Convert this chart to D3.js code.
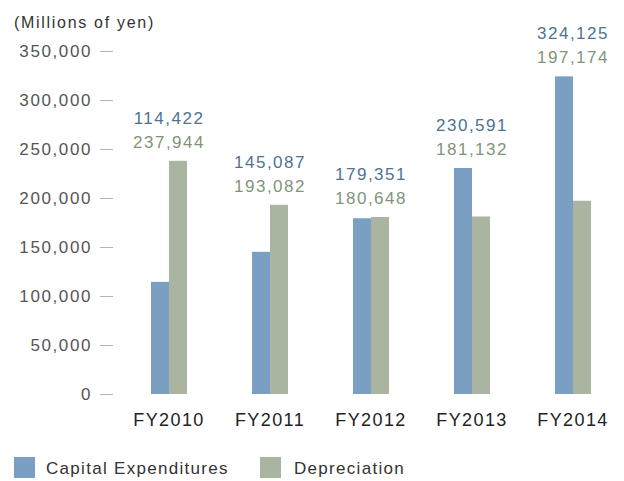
<!DOCTYPE html>
<html>
<head>
<meta charset="utf-8">
<script src="https://cdn.jsdelivr.net/npm/d3@7/dist/d3.min.js"></script>
<style>
  body { margin: 0; background: #fff; }
  svg text { font-family: "Liberation Sans", Arial, sans-serif; }
</style>
</head>
<body>
<div id="chart"></div>
<script>
// data
const years = ["FY2010", "FY2011", "FY2012", "FY2013", "FY2014"];
const capex = [114422, 145087, 179351, 230591, 324125];
const depreciation = [237944, 193082, 180648, 181132, 197174];
const yTicks = [0, 50000, 100000, 150000, 200000, 250000, 300000, 350000];
const seriesNames = ["Capital Expenditures", "Depreciation"];
const unitLabel = "(Millions of yen)";

const width = 624;
const height = 481;
const blue = "#7b9fc2";
const green = "#aab5a1";
const blueText = "#4d7392";
const greenText = "#7f9579";

const svg = d3.select("#chart").append("svg")
  .attr("width", width)
  .attr("height", height);

let x = d3.scaleBand()
  .domain(years)
  .range([118.5, 623.5])
  .padding(0);

let y = d3.scaleLinear()
  .domain([0, 350000])
  .range([394, 51]);

let barW = 18;

// y axis: only the little dashes and labels
let yAxis = svg.append("g")
  .attr("transform", "translate(113,0)")
  .call(d3.axisLeft(y).tickValues(yTicks).tickFormat(d3.format(",")).tickSize(13).tickPadding(8));
yAxis.select(".domain").remove();
yAxis.selectAll(".tick line").attr("stroke", "#b5b5b5");
yAxis.selectAll(".tick text")
  .attr("fill", "#555")
  .style("font-size", "17px")
  .style("letter-spacing", "1.6px");

// x axis labels
let xAxis = svg.append("g")
  .attr("transform", "translate(0,394)")
  .call(d3.axisBottom(x).tickSize(0).tickPadding(19));
xAxis.select(".domain").remove();
xAxis.selectAll(".tick text")
  .attr("fill", "#222")
  .style("font-size", "18px")
  .style("letter-spacing", "1.4px");

let rows = years.map((yr, i) => ({ year: yr, capex: capex[i], dep: depreciation[i] }));

let g = svg.selectAll("g.year")
  .data(rows)
  .enter()
  .append("g")
  .classed("year", true)
  .attr("transform", (d) => `translate(${x(d.year) + x.bandwidth() / 2},0)`);

g.append("rect")
  .attr("x", -barW)
  .attr("width", barW)
  .attr("y", (d) => y(d.capex))
  .attr("height", (d) => y(0) - y(d.capex))
  .attr("fill", blue);

g.append("rect")
  .attr("x", 0)
  .attr("width", barW)
  .attr("y", (d) => y(d.dep))
  .attr("height", (d) => y(0) - y(d.dep))
  .attr("fill", green);

g.append("text")
  .attr("text-anchor", "middle")
  .attr("y", (d) => y(Math.max(d.capex, d.dep)) - 37)
  .attr("fill", blueText)
  .style("font-size", "17px")
  .style("letter-spacing", "1.5px")
  .text((d) => d3.format(",")(d.capex));

g.append("text")
  .attr("text-anchor", "middle")
  .attr("y", (d) => y(Math.max(d.capex, d.dep)) - 13)
  .attr("fill", greenText)
  .style("font-size", "17px")
  .style("letter-spacing", "1.5px")
  .text((d) => d3.format(",")(d.dep));

// unit label
svg.append("text")
  .attr("x", 14)
  .attr("y", 28)
  .attr("fill", "#333")
  .style("font-size", "16px")
  .style("letter-spacing", "1.7px")
  .text(unitLabel);

// legend
let legendX = [14, 260];
let legend = svg.selectAll("g.legend")
  .data(seriesNames)
  .enter()
  .append("g")
  .classed("legend", true)
  .attr("transform", (d, i) => `translate(${legendX[i]},457)`);
legend.append("rect")
  .attr("width", 21)
  .attr("height", 21)
  .attr("fill", (d, i) => i === 0 ? blue : green);
legend.append("text")
  .attr("x", (d, i) => i === 0 ? 32 : 34)
  .attr("y", 17)
  .attr("fill", "#333")
  .style("font-size", "17px")
  .style("letter-spacing", "1.3px")
  .text((d) => d);
</script>
</body>
</html>
